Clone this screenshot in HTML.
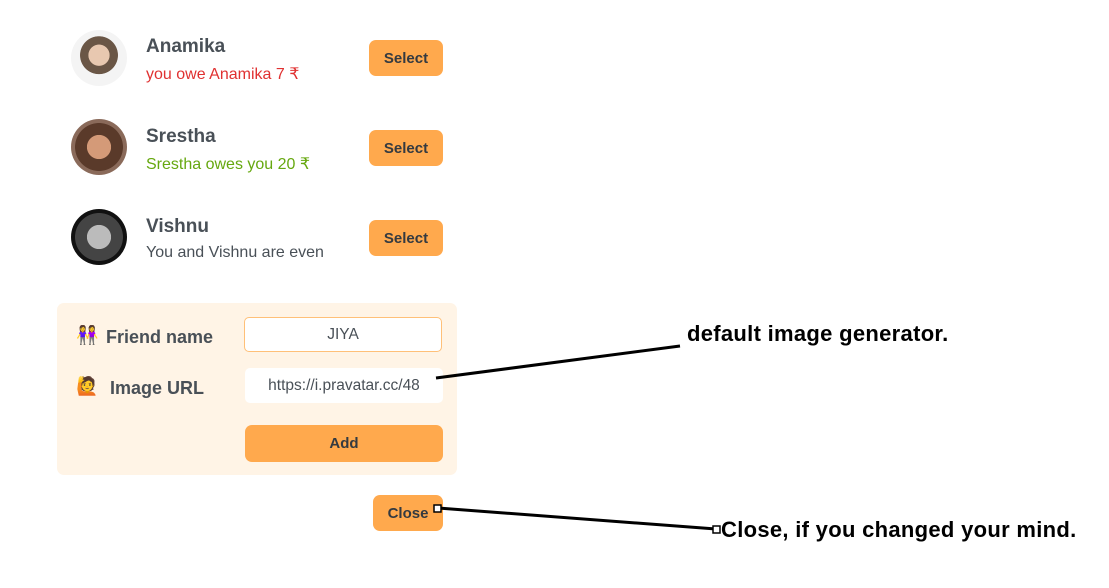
<!DOCTYPE html>
<html><head><style>
body{margin:0;width:1109px;height:588px;background:#fff;position:relative;font-family:"Liberation Sans",sans-serif;overflow:hidden}
.a{position:absolute}
.av{position:absolute;width:56px;height:56px;border-radius:50%}
.nm{position:absolute;font-size:19px;font-weight:bold;color:#495057}
.sub{position:absolute;font-size:16px}
.btn{position:absolute;background:#ffa94d;border-radius:7px;color:#343a40;font-weight:bold;font-size:15px;display:flex;align-items:center;justify-content:center}
.inp{position:absolute;background:#fff;border-radius:5px;font-size:15.5px;color:#495057;display:flex;align-items:center;justify-content:center}
.lbl{position:absolute;font-size:18px;font-weight:bold;color:#495057}
.ann{position:absolute;font-size:22px;letter-spacing:0.3px;font-weight:bold;color:#000}
</style></head><body>
<div class="av" style="left:71px;top:30px;background:radial-gradient(circle at 50% 45%,#e8c8b0 0 25%,#6a5646 26% 45%,#f4f4f4 46%)"></div>
<div class="nm" style="left:146px;top:36px">Anamika</div>
<div class="sub" style="left:146px;top:64px;color:#e03131">you owe Anamika 7 ₹</div>
<div class="btn" style="left:369px;top:40px;width:74px;height:36px">Select</div>

<div class="av" style="left:71px;top:119px;background:radial-gradient(circle at 50% 50%,#d49a78 0 30%,#5a3a2a 31% 60%,#8a6a5a 61%)"></div>
<div class="nm" style="left:146px;top:126px">Srestha</div>
<div class="sub" style="left:146px;top:154px;color:#66a80f">Srestha owes you 20 ₹</div>
<div class="btn" style="left:369px;top:130px;width:74px;height:36px">Select</div>

<div class="av" style="left:71px;top:209px;background:radial-gradient(circle at 50% 50%,#bbb 0 30%,#444 31% 60%,#111 61%)"></div>
<div class="nm" style="left:146px;top:216px">Vishnu</div>
<div class="sub" style="left:146px;top:244px;color:#495057">You and Vishnu are even</div>
<div class="btn" style="left:369px;top:220px;width:74px;height:36px">Select</div>

<div class="a" style="left:57px;top:303px;width:400px;height:172px;background:#fff4e6;border-radius:7px"></div>
<div class="a" style="left:76px;top:325px;font-size:18px">👭</div>
<div class="lbl" style="left:106px;top:327px">Friend name</div>
<div class="inp" style="left:244px;top:317px;width:198px;height:35px;border:1px solid #ffc078;box-sizing:border-box">JIYA</div>
<div class="a" style="left:76px;top:376px;font-size:18px">🙋</div>
<div class="lbl" style="left:110px;top:378px">Image URL</div>
<div class="inp" style="left:245px;top:368px;width:198px;height:35px">https://i.pravatar.cc/48</div>
<div class="btn" style="left:245px;top:425px;width:198px;height:37px">Add</div>

<div class="btn" style="left:373px;top:495px;width:70px;height:36px">Close</div>

<svg class="a" style="left:0;top:0" width="1109" height="588">
<line x1="436" y1="378" x2="680" y2="346" stroke="#000" stroke-width="3"/>
<line x1="438" y1="508" x2="716" y2="529" stroke="#000" stroke-width="3"/>
<rect x="434" y="505" width="7" height="7" fill="#fff" stroke="#000" stroke-width="1.5"/>
<rect x="713" y="526" width="7" height="7" fill="#fff" stroke="#000" stroke-width="1.5"/>
</svg>
<div class="ann" style="left:687px;top:321px">default image generator.</div>
<div class="ann" style="left:721px;top:517px">Close, if you changed your mind.</div>
</body></html>
